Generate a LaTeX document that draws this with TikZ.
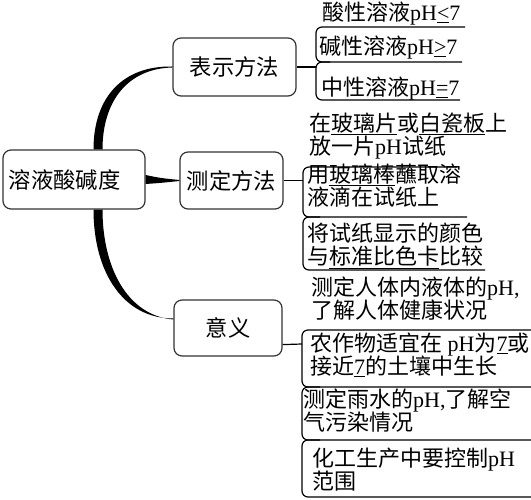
\documentclass[tikz,border=0pt]{standalone}
\usepackage{fontspec}
\setmainfont{Noto Sans CJK SC}
\newfontfamily\latf{Liberation Serif}
\newcommand\lt[1]{{\latf #1}}
\newcommand\lstr{\rule[-7pt]{0pt}{7pt}}
\usetikzlibrary{calc}
\begin{document}
\begin{tikzpicture}[x=1pt,y=-1pt,
  box/.style={draw=black!80, line width=1.2pt, rounded corners=8pt, inner sep=0pt, font=\fontsize{22.3}{24}\selectfont},
  item/.style={anchor=south west, inner sep=0pt, align=left, font=\fontsize{22}{23.5}\selectfont},
  ln/.style={draw=black, line width=1.2pt, rounded corners=6pt},
  taper/.style={fill=black, draw=none}]
\useasboundingbox (0,0) rectangle (531,500);
% main boxes
\node[box, text width=130pt, inner xsep=6pt, minimum height=59pt, align=left] (root) at (74,179.5) {溶液酸碱度};
\node[box, minimum width=123pt, minimum height=58pt] (bs) at (234.5,67) {表示方法};
\node[box, minimum width=103pt, minimum height=57pt] (cd) at (231.5,180.5) {测定方法};
\node[box, minimum width=108pt, minimum height=56pt] (yy) at (228,328) {意义};
% tapered connectors
\fill[taper] ($(root.north)+(19.5,0)$) .. controls (93.5,97) and (123,65.6) .. ($(bs.west)+(0,-0.5)$)
  -- ($(bs.west)+(0,0.5)$) .. controls (127,68.6) and (102.5,102) .. ($(root.north)+(28.5,0)$) -- cycle;
\fill[taper] ($(root.south)+(19.5,0)$) .. controls (93.5,272) and (123,318.5) .. ($(yy.west)+(0,-9.5)$)
  -- ($(yy.west)+(0,-8.5)$) .. controls (127,315.5) and (102.5,267) .. ($(root.south)+(28.5,0)$) -- cycle;
\fill[taper] ($(root.east)+(0,-4.5)$) .. controls (160,178) .. ($(cd.west)+(0,-0.5)$)
  -- ($(cd.west)+(0,0.5)$) .. controls (160,183) .. ($(root.east)+(0,4.5)$) -- cycle;
% bracket joints
\coordinate (j1) at (316,67);
\coordinate (j2) at (303,180.5);
\coordinate (j3) at (302,344);
\draw[ln] (bs.east) -- (j1);
\draw[ln] (cd.east) -- (j2);
\draw[ln] ($(yy.south east)+(0,-12)$) -- (j3);
% group 1
\draw[ln] (465,27) -- (316,27) -- (316,62) -- (462,62);
\draw[ln] (330,62) -- (316,62) -- (316,100) -- (460,100);
\node[item] (g1a) at (322,28) {酸性溶液\lt{pH\underline{<}7}\lstr};
\node[item] (g1b) at (319,62) {碱性溶液\lt{pH\underline{>}7}\lstr};
\node[item] (g1c) at (321,103) {中性溶液\lt{pH\underline{=}7}\lstr};
% group 2
\draw[ln] (457,167) -- (303,167) -- (303,217) -- (467,217);
\draw[ln] (320,217) -- (303,217) -- (303,270) -- (485,270);
\node[item] (g2a) at (309,162) {在\underline{玻璃片}或\underline{白瓷板}上\\放一片\lt{pH}试纸\lstr};
\node[item] (g2b) at (307,213) {用\underline{玻璃棒}蘸取溶\\液滴在试纸上\lstr};
\node[item] (g2c) at (307,272) {将试纸显示的颜色\\与\underline{标准比色卡}比较\lstr};
% group 3
\draw[ln] (531,330) -- (302,330) -- (302,387) -- (531,387);
\draw[ln] (320,387) -- (302,387) -- (302,440) -- (531,440);
\draw[ln] (320,440) -- (302,440) -- (302,497) -- (531,497);
\node[item] (g3a) at (311,326) {测定人体内液体的\lt{pH,}\\了解人体健康状况\lstr};
\node[item] (g3b) at (310,382) {农作物适宜在\lt{ pH}为\lt{\underline{7}}或\\接近\lt{\underline{7}}的土壤中生长\lstr};
\node[item] (g3c) at (303,438) {测定雨水的\lt{pH,}了解空\\气污染情况\lstr};
\node[item] (g3d) at (312,497) {化工生产中要控制\lt{pH}\\范围\lstr};
\end{tikzpicture}
\end{document}
